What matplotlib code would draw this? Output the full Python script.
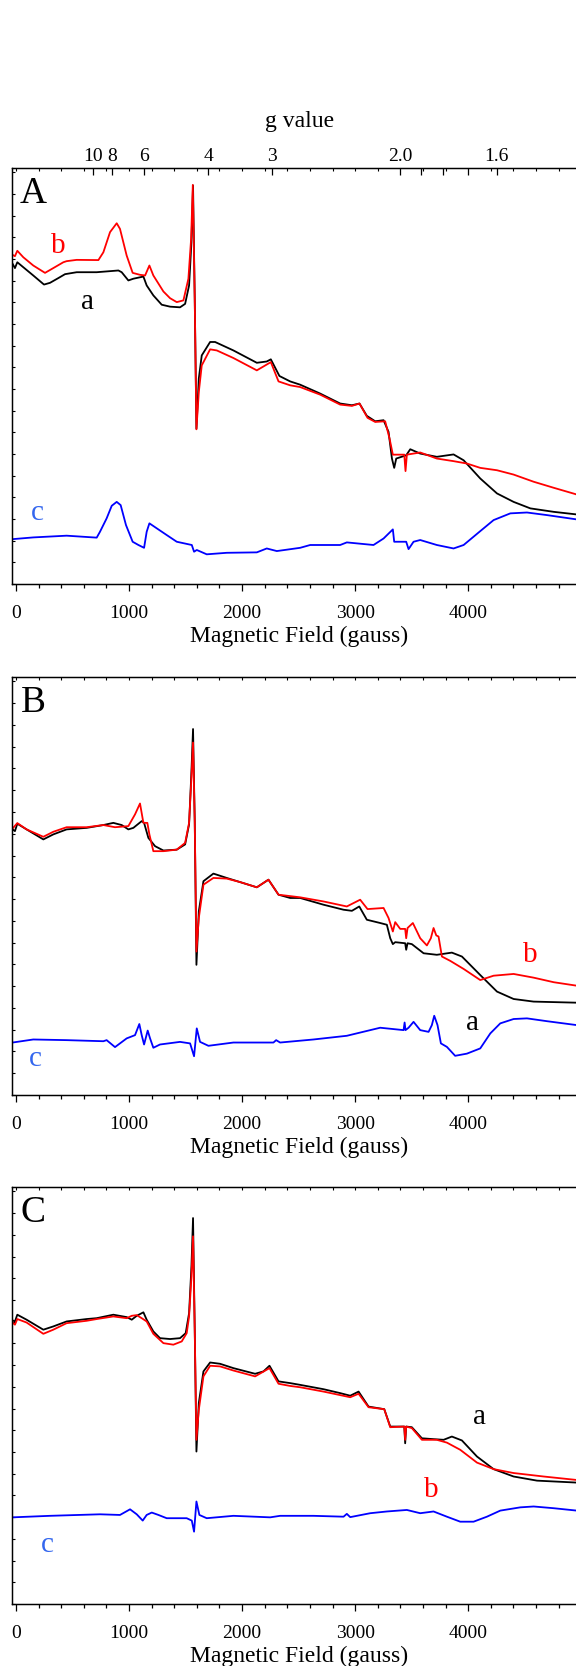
import matplotlib.pyplot as plt
from matplotlib.ticker import MultipleLocator

plt.rcParams['font.family'] = ['Liberation Serif', 'DejaVu Serif']

# EPR spectra, field in gauss, signal in arbitrary units
A_a = [(-30, 14.78), (-9, 14.58), (12, 14.85), (65, 14.62), (153, 14.24), (248, 13.82), (301, 13.90),
       (375, 14.12), (434, 14.30), (537, 14.39), (714, 14.39), (906, 14.47), (935, 14.39), (994, 14.01),
       (1038, 14.09), (1127, 14.19), (1156, 13.78), (1215, 13.32), (1289, 12.89), (1363, 12.80),
       (1451, 12.77), (1496, 12.93), (1531, 13.78), (1552, 15.78), (1566, 18.39), (1581, 13.16),
       (1596, 7.17), (1617, 9.48), (1643, 10.55), (1717, 11.17), (1761, 11.17), (1923, 10.78),
       (2130, 10.21), (2218, 10.27), (2254, 10.37), (2330, 9.60), (2425, 9.35), (2513, 9.20),
       (2690, 8.79), (2867, 8.33), (2971, 8.25), (3038, 8.33), (3103, 7.76), (3177, 7.51), (3251, 7.56),
       (3295, 7.02), (3325, 5.79), (3345, 5.36), (3363, 5.79), (3451, 5.94), (3487, 6.22), (3575, 6.02),
       (3722, 5.87), (3870, 5.98), (3959, 5.71), (4106, 4.87), (4254, 4.18), (4401, 3.79), (4549, 3.49),
       (4756, 3.33), (4960, 3.21)]
A_b = [(-30, 15.19), (-9, 15.13), (12, 15.38), (65, 15.08), (153, 14.70), (257, 14.36), (330, 14.58),
       (419, 14.85), (448, 14.90), (537, 14.96), (729, 14.95), (773, 15.31), (832, 16.24), (891, 16.65),
       (920, 16.39), (979, 15.16), (1032, 14.36), (1097, 14.27), (1142, 14.24), (1180, 14.70),
       (1215, 14.24), (1304, 13.50), (1363, 13.19), (1422, 13.01), (1481, 13.09), (1525, 14.09),
       (1549, 15.93), (1564, 18.42), (1581, 13.16), (1596, 7.14), (1617, 8.86), (1643, 10.09),
       (1717, 10.83), (1776, 10.78), (1923, 10.43), (2130, 9.86), (2254, 10.24), (2322, 9.35),
       (2425, 9.17), (2513, 9.09), (2690, 8.74), (2867, 8.28), (2971, 8.22), (3038, 8.33), (3109, 7.67),
       (3177, 7.48), (3265, 7.51), (3304, 6.71), (3333, 5.97), (3434, 5.97), (3445, 5.21), (3457, 5.97),
       (3575, 6.07), (3722, 5.79), (3870, 5.67), (3988, 5.56), (4106, 5.36), (4254, 5.25), (4401, 5.05),
       (4578, 4.72), (4756, 4.44), (4960, 4.13)]
A_c = [(-30, 2.07), (153, 2.15), (448, 2.23), (714, 2.14), (743, 2.41), (802, 3.03), (847, 3.61),
       (891, 3.79), (926, 3.64), (973, 2.72), (1032, 1.95), (1083, 1.80), (1133, 1.67), (1156, 2.41),
       (1180, 2.80), (1245, 2.57), (1333, 2.26), (1422, 1.95), (1555, 1.80), (1575, 1.49), (1599, 1.57),
       (1687, 1.37), (1864, 1.44), (2130, 1.46), (2218, 1.64), (2307, 1.52), (2513, 1.67), (2602, 1.80),
       (2867, 1.80), (2926, 1.92), (3162, 1.80), (3251, 2.10), (3333, 2.52), (3345, 1.95), (3451, 1.95),
       (3472, 1.61), (3516, 1.95), (3575, 2.03), (3722, 1.80), (3870, 1.64), (3959, 1.80), (4106, 2.44),
       (4224, 2.95), (4372, 3.26), (4519, 3.30), (4696, 3.18), (4960, 2.98)]

B_a = [(-30, 12.20), (-9, 12.12), (12, 12.46), (94, 12.20), (242, 11.74), (330, 11.97), (448, 12.20),
       (625, 12.27), (773, 12.40), (861, 12.50), (935, 12.40), (994, 12.20), (1038, 12.27), (1112, 12.58),
       (1133, 12.50), (1171, 11.81), (1230, 11.43), (1304, 11.23), (1422, 11.27), (1496, 11.51),
       (1531, 12.43), (1552, 14.88), (1566, 16.81), (1581, 12.58), (1596, 5.98), (1617, 8.43),
       (1658, 9.82), (1746, 10.17), (1864, 9.97), (1982, 9.78), (2130, 9.54), (2233, 9.89), (2322, 9.20),
       (2425, 9.05), (2513, 9.05), (2720, 8.74), (2897, 8.51), (2971, 8.46), (3036, 8.66), (3103, 8.05),
       (3221, 7.90), (3280, 7.82), (3310, 7.20), (3333, 6.93), (3354, 7.02), (3442, 6.97), (3451, 6.67),
       (3463, 6.97), (3501, 6.93), (3605, 6.51), (3722, 6.44), (3855, 6.54), (3944, 6.36), (4106, 5.51),
       (4254, 4.75), (4401, 4.41), (4578, 4.29), (4960, 4.24)]
B_b = [(-30, 12.24), (12, 12.49), (94, 12.20), (242, 11.86), (330, 12.09), (448, 12.30), (625, 12.30),
       (773, 12.40), (876, 12.30), (994, 12.35), (1053, 12.89), (1097, 13.39), (1127, 12.50),
       (1162, 12.50), (1180, 11.97), (1215, 11.20), (1304, 11.20), (1422, 11.27), (1496, 11.58),
       (1531, 12.50), (1552, 14.58), (1566, 16.19), (1581, 12.58), (1596, 6.59), (1617, 8.13),
       (1658, 9.66), (1746, 9.97), (1864, 9.94), (1982, 9.78), (2130, 9.54), (2233, 9.89), (2322, 9.20),
       (2513, 9.08), (2720, 8.89), (2926, 8.66), (3044, 8.97), (3109, 8.54), (3251, 8.59), (3295, 8.13),
       (3333, 7.51), (3354, 7.94), (3398, 7.63), (3442, 7.63), (3451, 7.20), (3463, 7.67), (3510, 7.90),
       (3575, 7.20), (3634, 6.87), (3669, 7.20), (3693, 7.67), (3717, 7.33), (3737, 7.28), (3767, 6.36),
       (3841, 6.16), (3959, 5.79), (4106, 5.28), (4224, 5.48), (4401, 5.56), (4578, 5.39), (4756, 5.18),
       (4960, 5.02)]
B_c = [(-30, 2.41), (153, 2.55), (448, 2.52), (773, 2.47), (802, 2.52), (876, 2.20), (979, 2.60),
       (1053, 2.75), (1091, 3.26), (1112, 2.75), (1133, 2.32), (1165, 2.96), (1186, 2.60), (1215, 2.17),
       (1274, 2.32), (1451, 2.44), (1540, 2.37), (1575, 1.78), (1599, 3.06), (1628, 2.44), (1702, 2.26),
       (1923, 2.41), (2277, 2.41), (2301, 2.52), (2336, 2.41), (2631, 2.55), (2926, 2.72), (3221, 3.09),
       (3428, 2.98), (3437, 3.33), (3445, 2.98), (3472, 3.09), (3516, 3.36), (3575, 2.98), (3649, 2.90),
       (3678, 3.21), (3699, 3.64), (3728, 3.21), (3758, 2.37), (3811, 2.21), (3884, 1.80), (3988, 1.90),
       (4106, 2.14), (4195, 2.83), (4283, 3.29), (4401, 3.49), (4519, 3.52), (4696, 3.39), (4960, 3.21)]

C_a = [(-30, 13.06), (-9, 13.01), (12, 13.32), (94, 13.09), (242, 12.63), (330, 12.78), (448, 13.01),
       (625, 13.12), (714, 13.16), (861, 13.32), (979, 13.21), (1024, 13.09), (1068, 13.27), (1127, 13.43),
       (1156, 13.09), (1215, 12.55), (1274, 12.24), (1363, 12.20), (1451, 12.24), (1501, 12.47),
       (1531, 13.39), (1552, 15.55), (1566, 17.77), (1581, 12.63), (1596, 7.02), (1617, 9.25),
       (1658, 10.71), (1717, 11.12), (1805, 11.06), (1923, 10.86), (2115, 10.60), (2189, 10.71),
       (2242, 10.97), (2322, 10.25), (2425, 10.17), (2513, 10.09), (2720, 9.89), (2867, 9.71),
       (2956, 9.59), (3030, 9.78), (3118, 9.09), (3257, 8.97), (3310, 8.17), (3434, 8.17), (3442, 7.40),
       (3451, 8.17), (3501, 8.14), (3590, 7.63), (3693, 7.59), (3782, 7.56), (3855, 7.71), (3944, 7.53),
       (4077, 6.79), (4224, 6.21), (4401, 5.87), (4608, 5.68), (4960, 5.59)]
C_b = [(-30, 12.96), (-9, 12.86), (12, 13.12), (94, 12.96), (242, 12.44), (330, 12.63), (448, 12.93),
       (625, 13.04), (714, 13.12), (861, 13.24), (979, 13.16), (1024, 13.27), (1068, 13.30), (1112, 13.16),
       (1156, 13.01), (1215, 12.44), (1304, 12.01), (1392, 11.94), (1466, 12.09), (1510, 12.47),
       (1531, 13.24), (1552, 15.08), (1566, 16.93), (1581, 12.63), (1596, 7.56), (1617, 8.94),
       (1658, 10.48), (1717, 10.97), (1805, 10.94), (1923, 10.75), (2115, 10.48), (2242, 10.86),
       (2322, 10.14), (2425, 10.04), (2513, 9.98), (2720, 9.78), (2956, 9.52), (3030, 9.68), (3118, 9.06),
       (3257, 8.97), (3310, 8.14), (3434, 8.17), (3442, 7.56), (3451, 8.17), (3501, 8.10), (3590, 7.56),
       (3722, 7.56), (3811, 7.43), (3929, 7.10), (4077, 6.51), (4224, 6.21), (4401, 6.03), (4667, 5.87),
       (4960, 5.71)]
C_c = [(-30, 3.99), (301, 4.06), (743, 4.13), (920, 4.10), (1009, 4.36), (1068, 4.13), (1121, 3.84),
       (1156, 4.10), (1201, 4.21), (1260, 4.10), (1333, 3.95), (1510, 3.95), (1555, 3.84), (1575, 3.33),
       (1596, 4.72), (1622, 4.10), (1687, 3.95), (1923, 4.06), (2248, 3.99), (2336, 4.06), (2631, 4.06),
       (2897, 4.02), (2926, 4.15), (2956, 4.00), (3133, 4.18), (3280, 4.26), (3457, 4.33), (3575, 4.18),
       (3693, 4.26), (3811, 4.02), (3929, 3.79), (4047, 3.79), (4165, 4.02), (4283, 4.30), (4460, 4.45),
       (4578, 4.49), (4756, 4.41), (4960, 4.30)]

# curve labels (field, signal) per panel: a, b, c
A_labels = [(637, 13.0), (372, 15.62), (186, 3.27)]
B_labels = [(4035, 3.33), (4549, 6.45), (168, 1.67)]
C_labels = [(4097, 8.62), (3673, 5.25), (281, 2.72)]

field_ticks = [0, 1000, 2000, 3000, 4000]
g_ticks = [10, 8, 6, 4, 3, 2.0, 1.9, 1.8, 1.7, 1.6]
g_labels = ['10', '8', '6', '4', '3', '2.0', '', '', '', '1.6']
G_FIELD = 6800  # h*nu/mu_B in gauss (X-band, ~9.52 GHz)

W, H = 576, 1666
fig = plt.figure(figsize=(W / 100, H / 100), dpi=100)

panels = [
    ("A", A_a, A_b, A_c, A_labels, 584, 416),
    ("B", B_a, B_b, B_c, B_labels, 1095, 418),
    ("C", C_a, C_b, C_c, C_labels, 1604, 417),
]

for name, a, b, c, labels, bottom_px, height_px in panels:
    ax = fig.add_axes([12 / W, (H - bottom_px) / H, 575 / W, height_px / H])
    ax.plot(*zip(*a), color='black', lw=1.3)
    ax.plot(*zip(*b), color='#ff0000', lw=1.3)
    ax.plot(*zip(*c), color='#0000ff', lw=1.3)
    ax.set_xlim(-35, 5050)
    ax.set_ylim(0, 19.2)

    ax.set_xticks(field_ticks)
    ax.xaxis.set_minor_locator(MultipleLocator(200))
    ax.yaxis.set_major_locator(MultipleLocator(1))
    ax.tick_params(axis='x', which='major', direction='out', length=5, width=0.9,
                   labelsize=14, pad=10)
    ax.tick_params(axis='x', which='minor', direction='out', length=3, width=0.9)
    ax.tick_params(axis='y', which='major', direction='in', length=2.5, width=0.8,
                   labelleft=False)
    for s in ax.spines.values():
        s.set_linewidth(1.0)
    ax.set_xlabel('Magnetic Field (gauss)', fontsize=17, labelpad=3)

    # top axis: small ticks, and g values on panel A
    top = ax.twiny()
    top.set_xlim(ax.get_xlim())
    top.xaxis.set_minor_locator(MultipleLocator(200))
    top.tick_params(axis='x', which='minor', direction='in', length=2, width=0.8)
    if name == "A":
        top.set_xticks([G_FIELD / g for g in g_ticks])
        top.set_xticklabels(g_labels)
        top.tick_params(axis='x', which='major', direction='in', length=5, width=0.9,
                        labelsize=14, pad=2)
        top.set_xlabel('g value', fontsize=17, labelpad=15)
    else:
        top.set_xticks([])

    ax.text(150, 18.0, name, fontsize=27, ha='center', va='center')
    ax.text(*labels[0], 'a', color='black', fontsize=21, ha='center', va='center')
    ax.text(*labels[1], 'b', color='#ff0000', fontsize=21, ha='center', va='center')
    ax.text(*labels[2], 'c', color='#3366ee', fontsize=21, ha='center', va='center')

fig.savefig('out.png', dpi=100)
